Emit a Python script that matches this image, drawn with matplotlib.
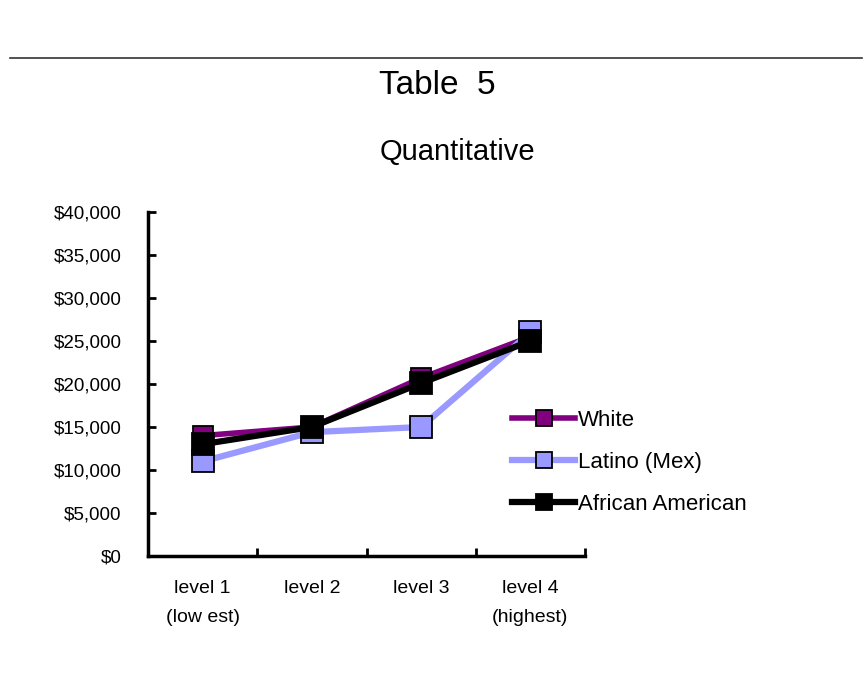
import matplotlib.pyplot as plt
from matplotlib.lines import Line2D

plt.rcParams['font.family'] = ['Liberation Sans', 'DejaVu Sans']

# data
levels = ['level 1\n(low est)', 'level 2', 'level 3', 'level 4\n(highest)']
white = [14000, 15000, 20700, 25500]
latino = [11000, 14400, 15000, 26000]
african_american = [13000, 15000, 20100, 25000]
yticks = [0, 5000, 10000, 15000, 20000, 25000, 30000, 35000, 40000]

fig = plt.figure(figsize=(8.67, 6.73), dpi=100)

# horizontal rule and titles
fig.add_artist(Line2D([10 / 867, 862 / 867], [1 - 58 / 673, 1 - 58 / 673],
                      color='#333333', lw=1.2))
fig.text(437 / 867, 1 - 85 / 673, 'Table  5', ha='center', va='center', fontsize=24)
fig.text(457 / 867, 1 - 152 / 673, 'Quantitative', ha='center', va='center', fontsize=21)

ax = fig.add_axes([148 / 867, 1 - 556 / 673, (585 - 148) / 867, (556 - 212) / 673])

x = range(len(levels))
ax.plot(x, white, color='#800080', lw=4, marker='s', ms=15,
        mfc='#800080', mec='black', mew=1.3, label='White')
ax.plot(x, latino, color='#9999FF', lw=4.5, marker='s', ms=16,
        mfc='#9999FF', mec='black', mew=1.3, label='Latino (Mex)')
ax.plot(x, african_american, color='black', lw=4.5, marker='s', ms=16,
        mfc='black', mec='black', mew=1.3, label='African American')

ax.set_xlim(-0.5, len(levels) - 0.5)
ax.set_ylim(0, 40000)
ax.set_yticks(yticks)
ax.set_yticklabels(['${:,}'.format(v) for v in yticks])
ax.set_xticks([i - 0.5 for i in range(len(levels) + 1)])
ax.set_xticklabels([])
ax.set_xticks(list(x), minor=True)
ax.set_xticklabels(levels, minor=True)
for t in ax.get_xticklabels(minor=True):
    t.set_linespacing(1.95)
ax.tick_params(axis='x', which='minor', length=0, pad=17, labelsize=14)
ax.tick_params(axis='x', which='major', direction='in', length=6, width=2)
ax.tick_params(axis='y', direction='in', length=6, width=2, labelsize=13.5, pad=19)

for s in ['top', 'right']:
    ax.spines[s].set_visible(False)
for s in ['left', 'bottom']:
    ax.spines[s].set_linewidth(2.5)

ax.legend(loc='upper left', bbox_to_anchor=(512 / 867, 1 - 410 / 673),
          bbox_transform=fig.transFigure, frameon=False, borderpad=0,
          borderaxespad=0, fontsize=16, handlelength=2.85, handletextpad=0.1,
          labelspacing=0.95, markerscale=0.75)

fig.savefig('out.png', dpi=100)
